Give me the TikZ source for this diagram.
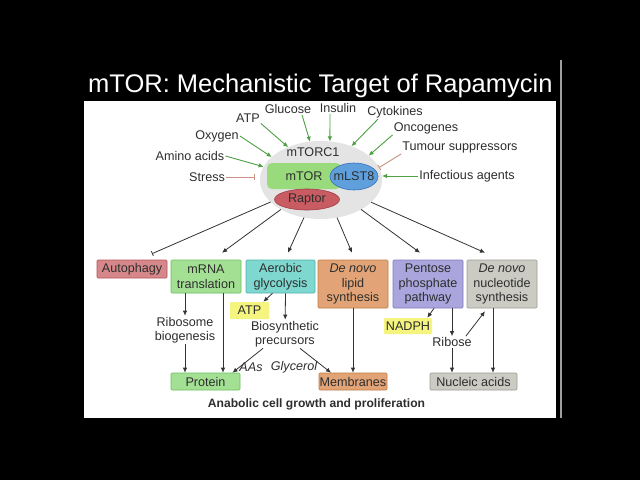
\documentclass[tikz,border=0pt]{standalone}
\usepackage{fontspec}
\setmainfont{Liberation Sans}
\usetikzlibrary{arrows.meta,shapes.geometric}
\definecolor{txt}{HTML}{2E2E2E}
\definecolor{darkline}{HTML}{333333}
\definecolor{arrgreen}{HTML}{4F9F45}
\definecolor{inhcol}{HTML}{C79282}
\definecolor{autfill}{HTML}{D6878A}
\definecolor{autdraw}{HTML}{B3545A}
\definecolor{grnfill}{HTML}{A3E094}
\definecolor{grndraw}{HTML}{6CBF5E}
\definecolor{tealfill}{HTML}{7FD8D0}
\definecolor{tealdraw}{HTML}{4DB3AA}
\definecolor{orfill}{HTML}{E2A476}
\definecolor{ordraw}{HTML}{C47B45}
\definecolor{purfill}{HTML}{AAA5DC}
\definecolor{purdraw}{HTML}{8079BD}
\definecolor{gryfill}{HTML}{CBCBC3}
\definecolor{grydraw}{HTML}{9D9D94}
\definecolor{yel}{HTML}{F4F47E}
\definecolor{ellgray}{HTML}{E4E4E4}
\definecolor{mtorfill}{HTML}{98DA7C}
\definecolor{mlstfill}{HTML}{5F9FDC}
\definecolor{mlstdraw}{HTML}{3A70B8}
\definecolor{rapfill}{HTML}{C85C62}
\definecolor{rapdraw}{HTML}{9E3D44}
\begin{document}
\begin{tikzpicture}[x=1pt,y=-1pt,
  lbl/.style={font=\fontsize{12.6}{14.5}\selectfont, text=txt, inner sep=1pt, align=center},
  ilbl/.style={lbl, font=\fontsize{12.6}{14.5}\selectfont\itshape},
  inarr/.style={draw=arrgreen, line width=0.9pt, -{Latex[length=5pt,width=4.5pt]}},
  inhib/.style={draw=inhcol, line width=0.9pt, -{Bar[width=6pt]}},
  outinhib/.style={draw=darkline, line width=0.8pt, -{Bar[width=5pt]}},
  outarr/.style={draw=darkline, line width=0.8pt, -{Latex[length=5pt,width=4.5pt]}},
  boxbase/.style={rectangle, rounded corners=1pt, line width=0.6pt, minimum width=70pt, inner sep=0pt, align=center, font=\fontsize{12.6}{14.5}\selectfont, text=txt},
  autbox/.style={boxbase, fill=autfill, draw=autdraw},
  grnbox/.style={boxbase, fill=grnfill, draw=grndraw},
  tealbox/.style={boxbase, fill=tealfill, draw=tealdraw},
  orbox/.style={boxbase, fill=orfill, draw=ordraw},
  purbox/.style={boxbase, fill=purfill, draw=purdraw},
  grybox/.style={boxbase, fill=gryfill, draw=grydraw},
  yelbox/.style={boxbase, fill=yel, draw=none}]
% background and panel
\fill[black] (0,0) rectangle (640,480);
\fill[white] (84,101) rectangle (556,418);
\draw[gray!75, line width=1.2pt] (561,60) -- (561,418);
\node[anchor=base west, inner sep=0pt, text=white, font=\fontsize{25.5}{30}\selectfont] (title) at (88,92) {mTOR: Mechanistic Target of Rapamycin};
% complex
\node[ellipse, fill=ellgray, minimum width=122pt, minimum height=78pt, inner sep=0pt, outer sep=0pt] (cx) at (321,180) {};
\node[lbl] (mtorc) at (313,152) {mTORC1};
\node[rectangle, rounded corners=5pt, fill=mtorfill, minimum width=74pt, minimum height=26pt, inner sep=0pt, font=\fontsize{12.6}{14.5}\selectfont, text=txt] (mtor) at (304,176) {mTOR};
\node[ellipse, fill=mlstfill, draw=mlstdraw, line width=0.6pt, minimum width=48pt, minimum height=27pt, inner sep=0pt, label={[lbl]center:mLST8}] (mlst) at (354,176.5) {};
\node[ellipse, fill=rapfill, draw=rapdraw, line width=0.6pt, minimum width=65pt, minimum height=21pt, inner sep=0pt, font=\fontsize{12.6}{14.5}\selectfont, text=txt] (rap) at (307,199.5) {Raptor};
% inputs
\node[lbl] (atp) at (248,118) {ATP};
\node[lbl] (glu) at (288,109) {Glucose};
\node[lbl] (ins) at (338,108) {Insulin};
\node[lbl] (cyt) at (395,112) {Cytokines};
\node[lbl] (onc) at (426,128) {Oncogenes};
\node[lbl] (tum) at (460,147) {Tumour suppressors};
\node[lbl] (inf) at (467,176) {Infectious agents};
\node[lbl] (oxy) at (217,136) {Oxygen};
\node[lbl] (ami) at (190,156) {Amino acids};
\node[lbl] (str) at (207,177) {Stress};
\draw[inarr] (atp.south east) -- (cx.135);
\draw[inarr] ([xshift=14pt]glu.south) -- (cx.106);
\draw[inarr] ([xshift=-8pt]ins.south) -- (cx.77);
\draw[inarr] ([xshift=-17pt]cyt.south) -- (cx.48);
\draw[inarr] (onc.south west) -- (cx.27);
\draw[inhib] (tum.south west) -- (cx.12);
\draw[inarr] (inf.west) -- (inf.west -| cx.east);
\draw[inarr] (oxy.east) -- (cx.155);
\draw[inarr] (ami.east) -- (cx.167);
\draw[inhib, shorten >=5pt] (str.east) -- (str.east -| cx.west);
% process boxes
\node[autbox, minimum height=18pt] (aut) at (132,269) {Autophagy};
\node[grnbox, minimum height=33pt] (mrna) at (206,276.5) {mRNA\\translation};
\node[tealbox, minimum width=69pt, minimum height=33pt] (aer) at (280.5,276.5) {Aerobic\\glycolysis};
\node[orbox, minimum height=48pt] (lip) at (353,284) {\textit{De novo}\\lipid\\synthesis};
\node[purbox, minimum height=48pt] (pen) at (428,284) {Pentose\\phosphate\\pathway};
\node[grybox, minimum height=48pt] (nuc) at (502,284) {\textit{De novo}\\nucleotide\\synthesis};
\draw[outinhib] (cx) -- ([xshift=20pt,yshift=6pt]aut.north);
\draw[outarr] (cx) -- ([xshift=16pt,yshift=7pt]mrna.north);
\draw[outarr] (cx) -- ([xshift=7.5pt,yshift=7pt]aer.north);
\draw[outarr] (cx) -- ([xshift=-1pt,yshift=7pt]lip.north);
\draw[outarr] (cx) -- ([xshift=-8pt,yshift=7pt]pen.north);
\draw[outarr] (cx) -- ([xshift=-17pt,yshift=7pt]nuc.north);
% products
\node[yelbox, minimum width=39pt, minimum height=17pt] (atpy) at (249.5,310.5) {ATP};
\node[yelbox, minimum width=48pt, minimum height=16pt] (nadph) at (408,326) {NADPH};
\node[lbl] (ribo) at (185,330) {Ribosome\\biogenesis};
\node[lbl] (bio) at (285,334) {Biosynthetic\\precursors};
\node[ilbl] (aas) at (251,367) {AAs};
\node[ilbl] (gly) at (294,367) {Glycerol};
\node[lbl] (ribose) at (452,342) {Ribose};
\node[grnbox, minimum width=69pt, minimum height=17pt] (prot) at (205.5,381.5) {Protein};
\node[orbox, minimum width=68pt, minimum height=17pt] (mem) at (353,381.5) {Membranes};
\node[grybox, minimum width=87pt, minimum height=17pt] (nucl) at (473.5,381.5) {Nucleic acids};
\node[lbl, font=\bfseries\fontsize{12.1}{14}\selectfont] (anab) at (316.5,404) {Anabolic cell growth and proliferation};
% lower connectors
\draw[outarr] ([xshift=-21pt]mrna.south) -- (ribo);
\draw[outarr] (ribo) -- (ribo |- prot.north);
\draw[outarr] ([xshift=17pt]mrna.south) -- ([xshift=17.5pt]prot.north);
\draw[outarr] ([xshift=5pt]aer.south) -- (bio);
\draw[outarr] ([xshift=-8pt]aer.south) -- ([xshift=-6pt]atpy.north east);
\draw[outarr] ([xshift=-22pt]bio.south) -- ([xshift=27pt]prot.north);
\draw[outarr] ([xshift=15pt]bio.south) -- ([xshift=-22pt]mem.north);
\draw[outarr] (lip) -- (mem);
\draw[outarr] ([xshift=6pt]pen.south) -- ([xshift=-5pt]nadph.north east);
\draw[outarr] ([xshift=24pt]pen.south) -- (ribose);
\draw[outarr] (ribose) -- (ribose |- nucl.north);
\draw[outarr] ([xshift=-7pt]ribose.north east) -- ([xshift=-17pt,yshift=-3pt]nuc.south);
\draw[outarr] ([xshift=-9pt]nuc.south) -- ([xshift=19.5pt]nucl.north);
\end{tikzpicture}
\end{document}
